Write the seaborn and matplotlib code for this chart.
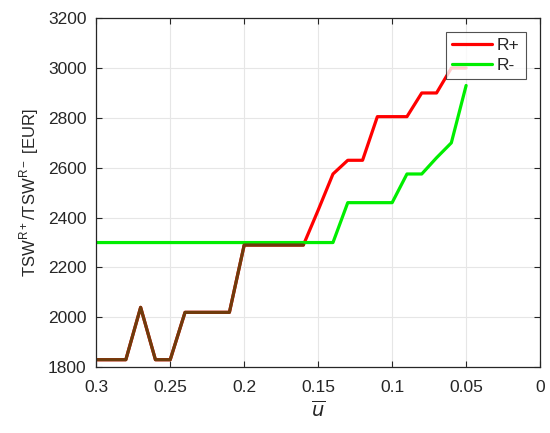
import matplotlib
matplotlib.use("Agg")
import matplotlib.pyplot as plt
import seaborn as sns
import pandas as pd

u_bar = [0.30, 0.29, 0.28, 0.27, 0.26, 0.25, 0.24, 0.23, 0.22, 0.21, 0.20,
         0.19, 0.18, 0.17, 0.16, 0.15, 0.14, 0.13, 0.12, 0.11, 0.10, 0.09,
         0.08, 0.07, 0.06, 0.05]
r_plus = [1830, 1830, 1830, 2040, 1830, 1830, 2020, 2020, 2020, 2020, 2290,
          2290, 2290, 2290, 2290, 2430, 2575, 2630, 2630, 2805, 2805, 2805,
          2900, 2900, 3000, 3000]
r_minus = [2300, 2300, 2300, 2300, 2300, 2300, 2300, 2300, 2300, 2300, 2300,
           2300, 2300, 2300, 2300, 2300, 2300, 2460, 2460, 2460, 2460, 2575,
           2575, 2640, 2700, 2930]
overlap_n = 15  # points of R+ drawn dark where both curves overlap in the original

df = pd.DataFrame({"u": u_bar * 2,
                   "v": r_plus + r_minus,
                   "s": ["R+"] * len(u_bar) + ["R-"] * len(u_bar)})
df_ov = pd.DataFrame({"u": u_bar[:overlap_n], "v": r_plus[:overlap_n]})

sns.set_theme(style="white")
plt.rcParams["font.family"] = ["Liberation Sans", "DejaVu Sans"]
plt.rcParams["mathtext.fontset"] = "dejavusans"

fig = plt.figure(figsize=(5.5, 4.33), dpi=100)
ax = fig.add_axes([0.175, 0.152, 0.807, 0.806])

sns.lineplot(data=df, x="u", y="v", hue="s", palette={"R+": "#ff0000", "R-": "#00ee00"},
             linewidth=2.3, ax=ax, sort=False, estimator=None)
sns.lineplot(data=df_ov, x="u", y="v", color="#6e3c0c", linewidth=2.3, ax=ax,
             sort=False, estimator=None, legend=False)

ax.set_xlim(0.3, 0)
ax.set_ylim(1800, 3200)
ax.set_xticks([0.3, 0.25, 0.2, 0.15, 0.1, 0.05, 0])
ax.set_xticklabels(["0.3", "0.25", "0.2", "0.15", "0.1", "0.05", "0"])
ax.set_yticks(range(1800, 3201, 200))
ax.grid(True, color="#e6e6e6", linewidth=0.8)
ax.tick_params(direction="in", length=4, width=0.8, colors="#262626", labelsize=12.5,
               top=True, right=True, bottom=True, left=True, labelcolor="#262626")
ax.tick_params(axis="x", pad=9)
ax.tick_params(axis="y", pad=7)
for sp in ax.spines.values():
    sp.set_color("#262626")
    sp.set_linewidth(0.9)

ax.set_xlabel(r"$\overline{u}$", fontsize=14, color="#262626", labelpad=4)
ax.set_ylabel(r"TSW$^{\mathregular{R+}}$/TSW$^{\mathregular{R-}}$ [EUR]", fontsize=12,
              color="#262626", labelpad=5)

leg = ax.legend(loc="upper right", bbox_to_anchor=(0.975, 0.97), fontsize=12.5,
                frameon=True, fancybox=False, handlelength=2.3, borderpad=0.35,
                labelspacing=0.25, handletextpad=0.25, borderaxespad=0.2)
leg.get_frame().set_edgecolor("#262626")
leg.get_frame().set_linewidth(0.8)
leg.set_title(None)

fig.savefig("out.png", dpi=100)
